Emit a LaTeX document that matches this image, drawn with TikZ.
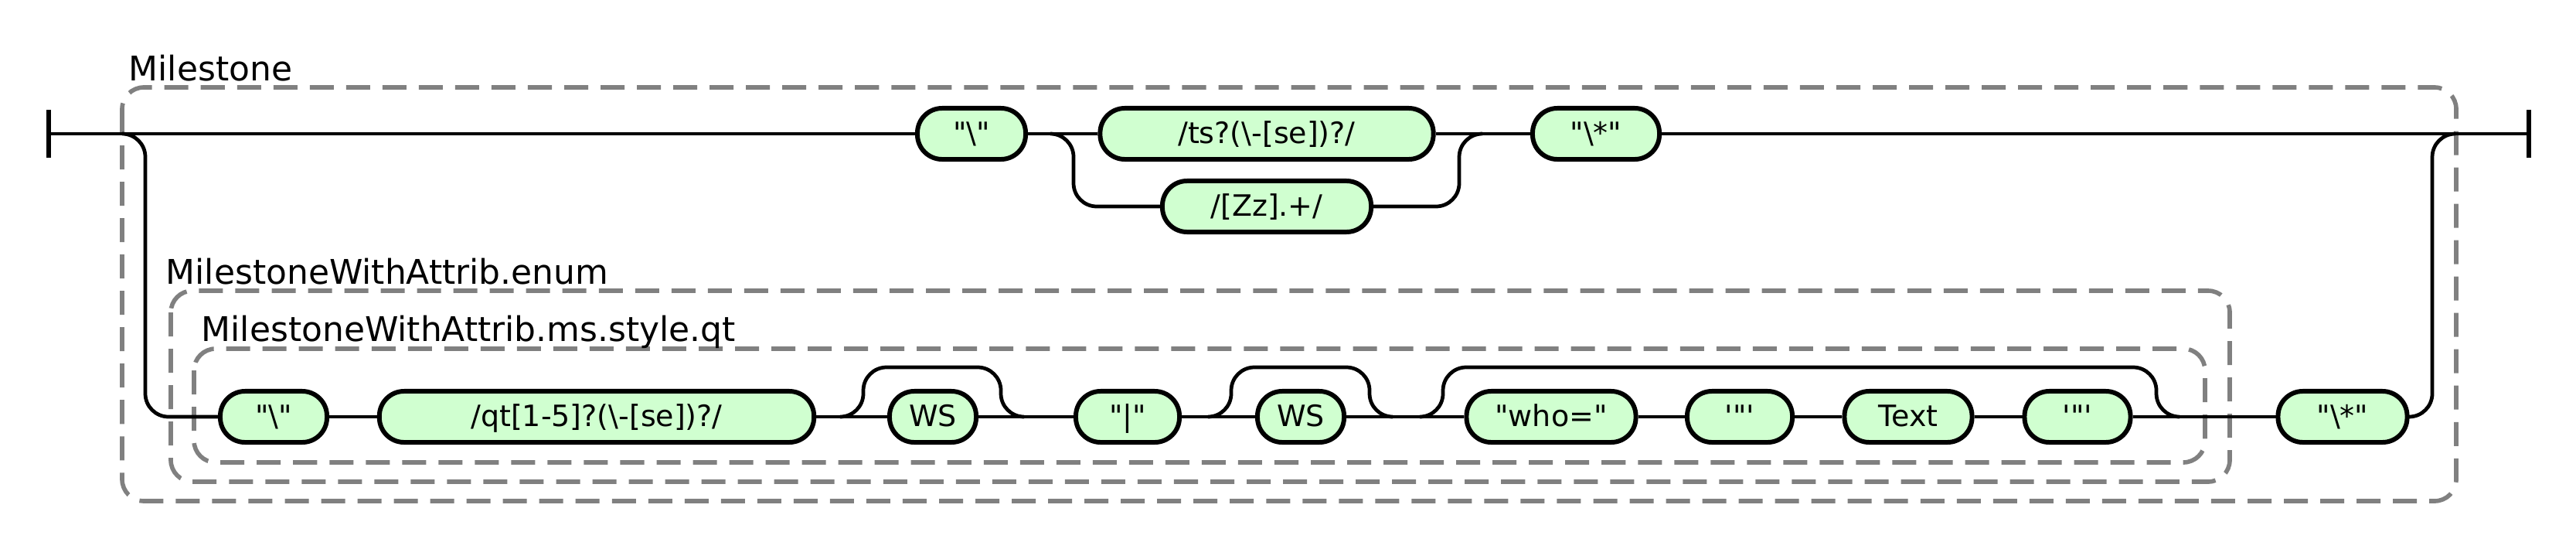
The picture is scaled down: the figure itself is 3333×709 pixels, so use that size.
\documentclass[tikz,border=0pt]{standalone}
\usepackage{fontspec}
\newfontfamily\rrfont{DejaVu Sans}
\usetikzlibrary{calc}
\definecolor{termfill}{RGB}{208,255,208}
\definecolor{grpgray}{RGB}{128,128,128}

\begin{document}
\begin{tikzpicture}[x=0.01cm, y=-0.01cm,
    rail/.style={line width=1.35pt, rounded corners=0.3cm},
    termbox/.style={draw, line width=1.7pt, fill=termfill, rounded corners=0.32cm,
        minimum height=0.66cm, inner sep=0pt, text height=0.31cm, text depth=0.06cm,
        font=\rrfont\fontsize{10.8pt}{12pt}\selectfont},
    grpbox/.style={draw=grpgray, line width=1.6pt, dash pattern=on 0.31cm off 0.16cm, rounded corners=0.28cm},
    grplabel/.style={anchor=base west, inner sep=0pt, font=\rrfont\fontsize{12.5pt}{14pt}\selectfont}]
    \useasboundingbox (0,0) rectangle (3333,709);

    \draw[grpbox] (158,113) rectangle (3178,648);
    \draw[grpbox] (221,376) rectangle (2885,623);
    \draw[grpbox] (251,451) rectangle (2853,598);
    \node[grplabel] (lbMilestone) at (166,104) {Milestone};
    \node[grplabel] (lbEnum) at (214,367) {MilestoneWithAttrib.enum};
    \node[grplabel] (lbQt) at (260,441) {MilestoneWithAttrib.ms.style.qt};

    \node[termbox, minimum width=1.40cm] (T1) at (1257,173) {"\textbackslash"};
    \node[termbox, minimum width=4.31cm] (T2) at (1639,173) {/ts?(\textbackslash-[se])?/};
    \node[termbox, minimum width=2.70cm] (T3) at (1639,267) {/[Zz].+/};
    \node[termbox, minimum width=1.64cm] (T4) at (2065,173) {"\textbackslash*"};

    \node[termbox, minimum width=1.38cm] (B1) at (354,539) {"\textbackslash"};
    \node[termbox, minimum width=5.62cm] (B2) at (772,539) {/qt[1-5]?(\textbackslash-[se])?/};
    \node[termbox, minimum width=1.12cm] (B3) at (1207,539) {WS};
    \node[termbox, minimum width=1.34cm] (B4) at (1459,539) {"|"};
    \node[termbox, minimum width=1.12cm] (B5) at (1683,539) {WS};
    \node[termbox, minimum width=2.19cm] (B6) at (2007,539) {"who="};
    \node[termbox, minimum width=1.36cm] (B7) at (2251,539) {'"'};
    \node[termbox, minimum width=1.65cm] (B8) at (2469,539) {Text};
    \node[termbox, minimum width=1.37cm] (B9) at (2688,539) {'"'};
    \node[termbox, minimum width=1.67cm] (B10) at (3031,539) {"\textbackslash*"};

    \coordinate (start) at (63,173);
    \coordinate (end) at (3272,173);
    \coordinate (sp0) at (158,173);
    \coordinate (jn0) at (3177,173);
    \coordinate (sp1) at (1359,173);
    \coordinate (jn1) at (1918,173);
    \coordinate (by1a) at (1087,539);
    \coordinate (by1b) at (1325,539);
    \coordinate (by2a) at (1563,539);
    \coordinate (by2b) at (1802,539);
    \coordinate (by3a) at (1837,539);
    \coordinate (by3b) at (2820,539);

    \draw[line width=1.7pt] ($(start)+(0,-31)$) -- ($(start)+(0,31)$);
    \draw[line width=1.7pt] ($(end)+(0,-31)$) -- ($(end)+(0,31)$);
    \draw[rail] (start) -- (T1.west);
    \draw[rail] (T1.east) -- (T2.west);
    \draw[rail] (T2.east) -- (T4.west);
    \draw[rail] (T4.east) -- (end);
    \draw[rail] (sp1) -- ++(30,0) |- (T3.west);
    \draw[rail] (T3.east) -| ($(jn1)+(-30,0)$) -- (jn1);
    \draw[rail] (sp0) -- ++(30,0) |- (B1.west);
    \draw[rail] (B10.east) -| ($(jn0)+(-30,0)$) -- (jn0);
    \foreach \a/\b in {B1/B2,B2/B3,B3/B4,B4/B5,B5/B6,B6/B7,B7/B8,B8/B9,B9/B10}
        \draw[rail] (\a.east) -- (\b.west);
    \foreach \a/\b in {by1a/by1b,by2a/by2b,by3a/by3b}
        \draw[rail] (\a) -| ($(\a)+(30,-64)$) -| ($(\b)+(-30,0)$) -- (\b);
\end{tikzpicture}
\end{document}
